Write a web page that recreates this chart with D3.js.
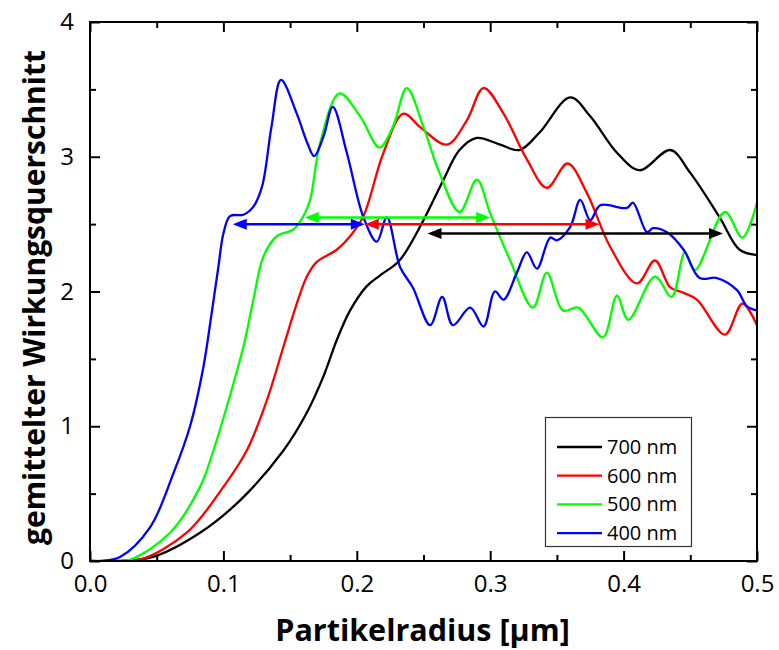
<!DOCTYPE html>
<html><head><meta charset="utf-8">
<script src="https://cdn.jsdelivr.net/npm/d3@7"></script>
<style>body{margin:0;background:#fff;} svg{display:block;} text{font-family:"Open Sans","Noto Sans",sans-serif;}</style>
</head><body><svg id="c" width="779" height="650"></svg>
<script>
// ---- data ----
const seriesNames = ["700 nm","600 nm","500 nm","400 nm"];
const seriesColors = ["#000000","#ff0000","#00ff00","#0000ff"];
const s700 = [[0,0],[0.02,0],[0.047,0.03],[0.0825,0.21],[0.1125,0.45],[0.145,0.82],[0.1625,1.10],[0.175,1.37],[0.185,1.64],[0.195,1.86],[0.2075,2.04],[0.2175,2.12],[0.232,2.23],[0.25,2.53],[0.265,2.83],[0.277,3.05],[0.29,3.14],[0.3075,3.09],[0.322,3.05],[0.337,3.18],[0.36,3.44],[0.375,3.3],[0.395,3.03],[0.412,2.9],[0.435,3.05],[0.45,2.88],[0.472,2.55],[0.487,2.31],[0.5,2.27]];
const s600 = [[0,0],[0.015,0],[0.0375,0.01],[0.0725,0.21],[0.1,0.55],[0.1175,0.82],[0.1325,1.19],[0.145,1.59],[0.155,1.91],[0.1625,2.11],[0.17,2.22],[0.185,2.31],[0.195,2.41],[0.205,2.56],[0.22,3.03],[0.235,3.32],[0.2475,3.22],[0.2675,3.09],[0.2825,3.27],[0.295,3.51],[0.31,3.32],[0.3275,2.98],[0.3425,2.77],[0.358,2.95],[0.3725,2.73],[0.39,2.33],[0.41,2.06],[0.4235,2.23],[0.435,2.03],[0.445,1.99],[0.455,1.94],[0.476,1.68],[0.489,1.91],[0.5,1.75]];
const s500 = [[0,0],[0.012,0],[0.03,0.01],[0.06,0.21],[0.0825,0.55],[0.0925,0.82],[0.1025,1.145],[0.115,1.59],[0.1225,1.94],[0.13,2.26],[0.14,2.41],[0.1525,2.46],[0.16,2.56],[0.165,2.68],[0.1725,3.1],[0.187,3.47],[0.2025,3.3],[0.217,3.07],[0.227,3.22],[0.2375,3.51],[0.25,3.22],[0.262,2.88],[0.277,2.59],[0.29,2.83],[0.3,2.58],[0.315,2.23],[0.332,1.88],[0.3425,2.14],[0.3545,1.86],[0.366,1.88],[0.3845,1.66],[0.395,1.97],[0.4035,1.79],[0.4235,2.11],[0.436,1.96],[0.446,2.29],[0.4535,2.16],[0.476,2.59],[0.489,2.4],[0.5,2.66]];
const s400 = [[0,0],[0.008,0],[0.0225,0.03],[0.045,0.25],[0.0625,0.65],[0.075,1.0],[0.085,1.44],[0.0912,1.84],[0.0962,2.18],[0.1,2.43],[0.105,2.56],[0.115,2.57],[0.1225,2.63],[0.129,2.78],[0.136,3.22],[0.1432,3.57],[0.155,3.32],[0.163,3.1],[0.168,3.005],[0.175,3.15],[0.182,3.37],[0.1925,3.03],[0.205,2.55],[0.215,2.37],[0.2225,2.55],[0.2325,2.18],[0.242,2.03],[0.255,1.75],[0.264,1.96],[0.272,1.75],[0.285,1.88],[0.295,1.74],[0.3035,2.0],[0.31,1.94],[0.32,2.14],[0.3275,2.29],[0.335,2.17],[0.345,2.4],[0.35,2.38],[0.36,2.48],[0.3675,2.68],[0.375,2.53],[0.3825,2.64],[0.4025,2.62],[0.407,2.66],[0.4175,2.44],[0.422,2.47],[0.4325,2.44],[0.445,2.31],[0.457,2.1],[0.47,2.1],[0.485,2.01],[0.4925,1.89],[0.5,1.86]];
// arrows: x1, x2 (µm) at height y, heads on both ends
const arrows = [
  {color:"#0000ff", x1:0.107, x2:0.206, y:2.5},
  {color:"#00ff00", x1:0.161, x2:0.300, y:2.55},
  {color:"#ff0000", x1:0.206, x2:0.382, y:2.5},
  {color:"#000000", x1:0.253, x2:0.4745, y:2.43}
];
const xTicks = [0,0.1,0.2,0.3,0.4,0.5];
const xMinor = [0.05,0.15,0.25,0.35,0.45];
const yTicks = [0,1,2,3,4];
const yMinor = [0.5,1.5,2.5,3.5];
const xTitle = "Partikelradius [µm]";
const yTitle = "gemittelter Wirkungsquerschnitt";

// ---- layout ----
const L=90,R=757,T=22,B=561;
const svg=d3.select("#c");
const x=d3.scaleLinear().domain([0,0.5]).range([L,R]);
const y=d3.scaleLinear().domain([0,4]).range([B,T]);

const defs=svg.append("defs");
defs.append("clipPath").attr("id","clip").append("rect").attr("x",L).attr("y",T).attr("width",R-L).attr("height",B-T);

// curves
const line=d3.line().x(d=>x(d[0])).y(d=>y(d[1])).curve(d3.curveCatmullRom.alpha(0.5));
const allSeries=[s700,s600,s500,s400];
const g=svg.append("g").attr("clip-path","url(#clip)");
allSeries.forEach((s,i)=>{
  g.append("path").attr("d",line(s)).attr("fill","none").attr("stroke",seriesColors[i]).attr("stroke-width",2.3).attr("stroke-linejoin","round");
});

// arrows
const ah=14, aw=5.5;
arrows.forEach(a=>{
  const X1=x(a.x1), X2=x(a.x2), Y=y(a.y);
  svg.append("line").attr("x1",X1+ah-2).attr("x2",X2-ah+2).attr("y1",Y).attr("y2",Y).attr("stroke",a.color).attr("stroke-width",2.5);
  svg.append("path").attr("d",`M${X1},${Y}L${X1+ah},${Y-aw}L${X1+ah},${Y+aw}Z`).attr("fill",a.color);
  svg.append("path").attr("d",`M${X2},${Y}L${X2-ah},${Y-aw}L${X2-ah},${Y+aw}Z`).attr("fill",a.color);
});

// axes (inward ticks on all four sides)
const fr=svg.append("g");
const tickStyle=sel=>sel.attr("stroke","#000").attr("stroke-width",2);
fr.append("rect").attr("x",L).attr("y",T).attr("width",R-L).attr("height",B-T).attr("fill","none").attr("stroke","#000").attr("stroke-width",2);
const axB=d3.axisBottom(x).tickValues(xTicks).tickSize(-10).tickFormat(d3.format(".1f")).tickPadding(14);
const axBm=d3.axisBottom(x).tickValues(xMinor).tickSize(-6).tickFormat("");
const axT=d3.axisTop(x).tickValues(xTicks).tickSize(-10).tickFormat("");
const axTm=d3.axisTop(x).tickValues(xMinor).tickSize(-6).tickFormat("");
const axL=d3.axisLeft(y).tickValues(yTicks).tickSize(-10).tickFormat(d3.format("d")).tickPadding(16);
const axLm=d3.axisLeft(y).tickValues(yMinor).tickSize(-6).tickFormat("");
const axR=d3.axisRight(y).tickValues(yTicks).tickSize(-10).tickFormat("");
const axRm=d3.axisRight(y).tickValues(yMinor).tickSize(-6).tickFormat("");
[[axB,`translate(0,${B})`],[axBm,`translate(0,${B})`],[axT,`translate(0,${T})`],[axTm,`translate(0,${T})`],
 [axL,`translate(${L},0)`],[axLm,`translate(${L},0)`],[axR,`translate(${R},0)`],[axRm,`translate(${R},0)`]].forEach(([ax,tr])=>{
  const a=fr.append("g").attr("transform",tr).call(ax);
  a.select(".domain").remove();
  a.selectAll(".tick line").call(tickStyle);
  a.selectAll(".tick text").attr("font-size",24).attr("fill","#000").attr("font-family","'Open Sans',sans-serif");
});

// titles
svg.append("text").attr("x",(L+R)/2-1).attr("y",641).attr("text-anchor","middle").attr("font-size",30.5).attr("font-weight","bold").text(xTitle);
svg.append("text").attr("transform",`translate(45,${(T+B)/2+6}) rotate(-90)`).attr("text-anchor","middle").attr("font-size",30).attr("font-weight","bold").text(yTitle);

// legend
const lg=svg.append("g");
lg.append("rect").attr("x",545.5).attr("y",417.5).attr("width",146).attr("height",129).attr("fill","#fff").attr("stroke","#333").attr("stroke-width",1.2);
seriesNames.forEach((n,i)=>{
  const yy=447+i*28.7;
  lg.append("line").attr("x1",557).attr("x2",602).attr("y1",yy).attr("y2",yy).attr("stroke",seriesColors[i]).attr("stroke-width",2.3);
  lg.append("text").attr("x",607).attr("y",yy+7).attr("font-size",20).attr("fill","#000").text(n);
});
</script></body></html>
